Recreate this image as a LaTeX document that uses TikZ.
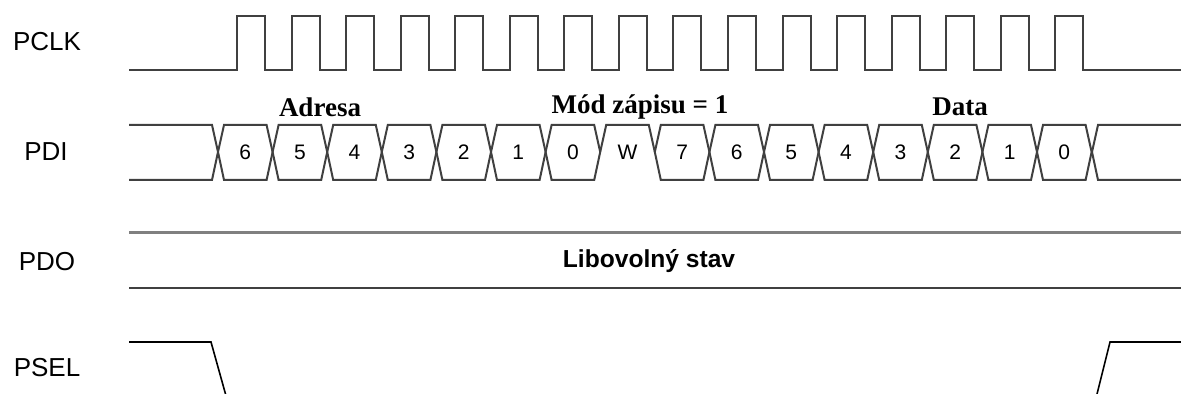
\documentclass[tikz,border=0pt]{standalone}
\usepackage{fontspec}
\setmainfont{Liberation Sans}
\newfontfamily\grpfont{Liberation Serif}
\usepackage{tikz}

\begin{document}
\begin{tikzpicture}[x=0.5pt,y=-0.5pt,
  wave/.style={line width=1pt,draw=black!75,line join=miter},
  sig/.style={font=\fontsize{13}{15}\selectfont},
  bit/.style={font=\fontsize{10.5}{12}\selectfont},
  grp/.style={font=\grpfont\bfseries\fontsize{13.5}{15}\selectfont}]
\useasboundingbox (0,0) rectangle (1181,394);
\node [sig] (pclk) at (47,42) {PCLK};
\node [sig] (pdi) at (46,152) {PDI};
\node [sig] (pdo) at (47,262) {PDO};
\node [sig] (psel) at (47,368) {PSEL};
% clock
\draw [wave] (129,70) \foreach \k in {0,...,15} {
  -- ({237+54.55*\k},70) -- ({237+54.55*\k},16) -- ({265+54.55*\k},16) -- ({265+54.55*\k},70)}
  -- (1181,70);
% data in
\draw [wave] (129,125) -- (212,125) -- (218,152) -- (212,180) -- (129,180);
\foreach \t [count=\k from 0] in {6,5,4,3,2,1,0,W,7,6,5,4,3,2,1,0} {
  \pgfmathsetmacro\ca{218+54.6*\k}
  \pgfmathsetmacro\cb{218+54.6*(\k+1)}
  \ifnum\k=7
    \draw [wave] (\ca,152) -- (\ca+6,125) -- (\cb-6,125) -- (\cb,152);
  \else
    \draw [wave] (\ca,152) -- (\ca+6,125) -- (\cb-6,125) -- (\cb,152) -- (\cb-6,180) -- (\ca+6,180) -- cycle;
  \fi
  \node [bit] (bit\k) at ({(\ca+\cb)/2},152) {\t};
}
\draw [wave] (1181,125) -- (1098,125) -- (1092,152) -- (1098,180) -- (1181,180);
\node [grp] (adresa) at (320,107) {Adresa};
\node [grp] (mod) at (640,107) {Mód zápisu = 1};
\node [grp] (data) at (960,107) {Data};
% data out
\draw [line width=1.5pt,draw=black!50] (129,233) -- (1181,233);
\draw [wave] (129,288) -- (1181,288);
\node [font=\bfseries\fontsize{12.3}{14}\selectfont] (libo) at (649,261) {Libovolný stav};
% select
\draw [line width=0.8pt] (129,342) -- (211,342) -- (225.5,394);
\draw [line width=0.8pt] (1097,394) -- (1110,342) -- (1181,342);
\end{tikzpicture}
\end{document}
